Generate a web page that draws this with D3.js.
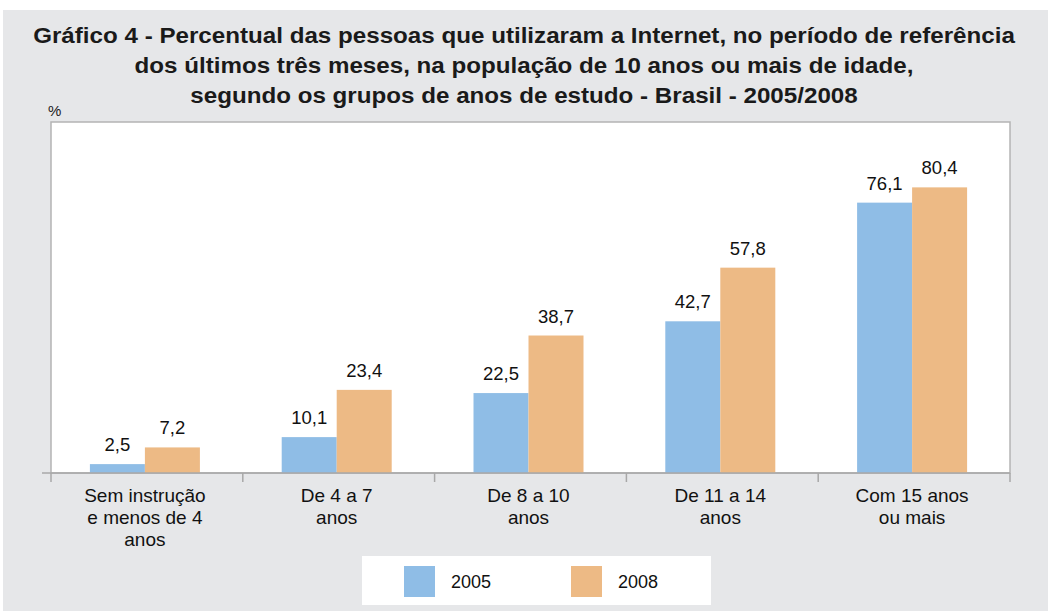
<!DOCTYPE html>
<html>
<head>
<meta charset="utf-8">
<script src="https://cdn.jsdelivr.net/npm/d3@7"></script>
<style>
  body { margin: 0; background: #fff; }
  svg { display: block; }
</style>
</head>
<body>
<svg id="chart" width="1048" height="611"></svg>
<script>
// data
const categories = [
  ['Sem instrução', 'e menos de 4', 'anos'],
  ['De 4 a 7', 'anos'],
  ['De 8 a 10', 'anos'],
  ['De 11 a 14', 'anos'],
  ['Com 15 anos', 'ou mais']
];
const seriesNames = ['2005', '2008'];
const values2005 = [2.5, 10.1, 22.5, 42.7, 76.1];
const values2008 = [7.2, 23.4, 38.7, 57.8, 80.4];
const titleLines = [
  'Gráfico 4 - Percentual das pessoas que utilizaram a Internet, no período de referência',
  'dos últimos três meses, na população de 10 anos ou mais de idade,',
  'segundo os grupos de anos de estudo - Brasil - 2005/2008'
];

const colors = ['#8fbde6', '#edba85'];
const font = "'Liberation Sans', Arial, sans-serif";
const svg = d3.select('#chart');
const W = 1048, H = 611;
const plot = { left: 51, right: 1010, top: 122, bottom: 473 };

// grey background
svg.append('rect').attr('x', 3).attr('y', 10).attr('width', W - 3).attr('height', H - 10)
  .attr('fill', '#e6e7e9');

// title: condensed look by squeezing a bold face horizontally
const titleG = svg.append('g').attr('font-family', font)
  .attr('font-weight', 'bold').attr('fill', '#1a1a1a').attr('text-anchor', 'middle');
const title = titleG.append('g');
titleLines.forEach((t, i) => {
  title.append('text').attr('x', 0).attr('y', 43 + i * 30).attr('font-size', 22.5).text(t);
});
const sx = 982 / title.select('text').node().getComputedTextLength();
title.attr('transform', `translate(524,0) scale(${sx},1)`);

svg.append('text').attr('x', 48).attr('y', 116).attr('font-family', font)
  .attr('font-size', 15).attr('fill', '#222').text('%');

// plot area
svg.append('rect').attr('x', plot.left).attr('y', plot.top)
  .attr('width', plot.right - plot.left).attr('height', plot.bottom - plot.top)
  .attr('fill', '#fff').attr('stroke', '#b4b4b4').attr('stroke-width', 1.5);

const x = d3.scaleBand().domain(d3.range(categories.length))
  .range([plot.left, plot.right]).paddingInner(0).paddingOuter(0);
const xs = d3.scaleBand().domain(seriesNames).range([0, 110]);
const y = d3.scaleLinear().domain([0, 98.8]).range([plot.bottom, plot.top]);

const series = [values2005, values2008];
const groups = svg.append('g').selectAll('g').data(categories).join('g')
  .attr('transform', (d, i) => `translate(${x(i) + x.bandwidth() / 2 - 57},0)`);

seriesNames.forEach((s, si) => {
  groups.append('rect')
    .attr('x', xs(s)).attr('width', xs.bandwidth())
    .attr('y', (d, i) => y(series[si][i]))
    .attr('height', (d, i) => y(0) - y(series[si][i]))
    .attr('fill', colors[si]);
  groups.append('text')
    .attr('x', xs(s) + xs.bandwidth() / 2)
    .attr('y', (d, i) => y(series[si][i]) - 13)
    .attr('text-anchor', 'middle')
    .attr('font-family', font).attr('font-size', 18.5).attr('fill', '#111')
    .text((d, i) => String(series[si][i]).replace('.', ','));
});

// x axis line with ticks at category boundaries
const axis = svg.append('g').attr('stroke', '#a8a8a8').attr('stroke-width', 1.5);
axis.append('line').attr('x1', 42).attr('x2', plot.right).attr('y1', plot.bottom).attr('y2', plot.bottom);
const bounds = d3.range(categories.length + 1).map(i => i < categories.length ? x(i) : plot.right);
axis.selectAll('.tick').data(bounds).join('line')
  .attr('x1', d => d).attr('x2', d => d).attr('y1', plot.bottom).attr('y2', plot.bottom + 9);

// category labels
const labels = svg.append('g').attr('font-family', font)
  .attr('font-size', 19).attr('fill', '#111').attr('text-anchor', 'middle');
categories.forEach((lines, i) => {
  lines.forEach((l, j) => {
    labels.append('text').attr('x', x(i) + x.bandwidth() / 2 - 2).attr('y', 502 + j * 22).text(l);
  });
});

// legend
const legend = svg.append('g');
legend.append('rect').attr('x', 362).attr('y', 556).attr('width', 349).attr('height', 49).attr('fill', '#fff');
const legX = [404, 571];
seriesNames.forEach((s, i) => {
  legend.append('rect').attr('x', legX[i]).attr('y', 566).attr('width', 31).attr('height', 31).attr('fill', colors[i]);
  legend.append('text').attr('x', legX[i] + 47).attr('y', 588)
    .attr('font-family', font).attr('font-size', 18).attr('fill', '#111').text(s);
});
</script>
</body>
</html>
